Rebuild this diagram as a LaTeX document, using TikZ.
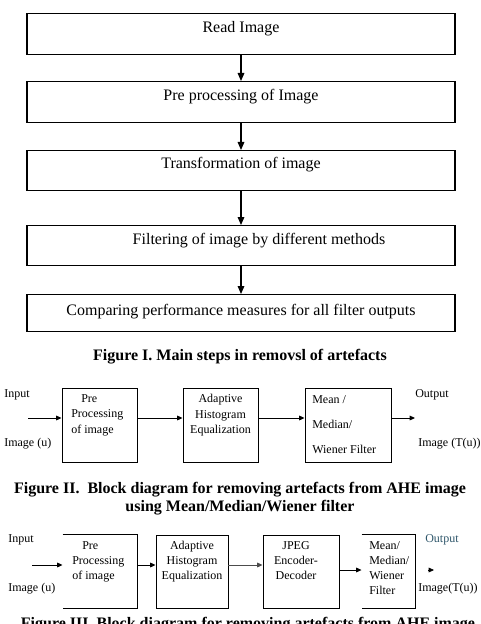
\documentclass[tikz,border=0pt]{standalone}
\usepackage{fontspec}
\setmainfont{Liberation Serif}
\usetikzlibrary{arrows.meta, positioning, calc}
\definecolor{outteal}{RGB}{45,85,105}

\begin{document}
\begin{tikzpicture}[x=0.75pt, y=-0.75pt,
    stepbox/.style={draw, line width=1pt, minimum width=321pt, inner ysep=0pt,
                    anchor=north, font=\fontsize{12}{14}\selectfont},
    blk/.style={draw, line width=0.7pt, inner sep=0pt},
    lbl/.style={inner sep=0pt, anchor=base west, font=\fontsize{9}{11}\selectfont},
    inbox/.style={inner sep=0pt, anchor=north west, align=left,
                  font=\fontsize{9}{11.6}\selectfont},
    capt/.style={inner sep=0pt, anchor=base, align=center,
                font=\fontsize{12}{13.5}\selectfont\bfseries},
    arrI/.style={-{Triangle[length=6pt,width=5pt]}, line width=0.8pt},
    arr/.style={-{Triangle[length=4pt,width=3.5pt]}, line width=0.7pt}]

  \useasboundingbox (0,0) rectangle (480,624);

  % Figure I: main steps
  \node[stepbox, text height=14.25pt, text depth=16.5pt] (read) at (241,13) {Read Image};
  \node[stepbox, text height=14.25pt, text depth=16.5pt] (prep) at (241,81) {Pre processing of Image};
  \node[stepbox, text height=13.5pt, text depth=16.5pt] (trans) at (241,150) {Transformation of image};
  \node[stepbox, text height=14.25pt, text depth=15.75pt] (filt) at (241,225)
       {\hspace*{27pt}Filtering of image by different methods};
  \node[stepbox, text height=15.75pt, text depth=12pt] (comp) at (241,294)
       {Comparing performance measures for all filter outputs};

  \draw[arrI] (read) -- (prep);
  \draw[arrI] (prep) -- (trans);
  \draw[arrI] (trans) -- (filt);
  \draw[arrI] (filt) -- (comp);

  \node[capt] (capI) at (240,360) {Figure I. Main steps in removsl of artefacts};

  % Figure II: AHE + filter
  \node[blk, minimum width=56.25pt, minimum height=55.5pt] (pre2) at (99.5,425) {};
  \node[blk, minimum width=56.25pt, minimum height=55.5pt] (ahe2) at (220.5,425) {};
  \node[blk, minimum width=64.5pt, minimum height=55.5pt] (flt2) at (348,425) {};
  \coordinate (in2) at (28,418);
  \coordinate (out2) at (415,418);

  \draw[arr] (in2) -- (in2 -| pre2.west);
  \draw[arr] (pre2.east |- in2) -- (ahe2.west |- in2);
  \draw[arr] (ahe2.east |- in2) -- (flt2.west |- in2);
  \draw[arr] (flt2.east |- in2) -- (out2);

  \node[inbox] (pre2t) at (71,394) {\hspace*{7.5pt}Pre\\Processing\\of image};
  \node[inbox, anchor=north, align=center] (ahe2t) at (220.5,394) {Adaptive\\Histogram\\Equalization};
  \node[inbox, font=\fontsize{9}{18.75}\selectfont] (flt2t) at (312,395) {Mean /\\Median/\\Wiener Filter};

  \node[lbl] (in2a) at (4,397) {Input};
  \node[lbl] (in2b) at (4,446) {Image (u)};
  \node[lbl] (out2a) at (415,397) {Output};
  \node[lbl] (out2b) at (418,446) {Image (T(u))};

  \node[capt, anchor=north] (capII) at (240,481.5)
       {Figure II.\ \ Block diagram for removing artefacts from AHE image\\using Mean/Median/Wiener filter};

  % Figure III: AHE + JPEG + filter
  \node[blk, draw=none, minimum width=55.5pt, minimum height=54.75pt] (pre3) at (100,571.5) {};
  \node[blk, minimum width=54pt, minimum height=54.75pt] (ahe3) at (192,571.5) {};
  \node[blk, minimum width=57pt, minimum height=54.75pt] (jpg3) at (301,571.5) {};
  \node[blk, draw=none, minimum width=39.75pt, minimum height=54.75pt] (flt3) at (388.5,571.5) {};
  \draw[line width=0.7pt] (pre3.north west) -- (pre3.north east) -- (pre3.south east) -- (pre3.south west);
  \draw[line width=0.7pt] (flt3.north west) -- (flt3.north east) -- (flt3.south east) -- (flt3.south west);
  \coordinate (in3) at (32,565);
  \coordinate (out3s) at (428,570);
  \coordinate (out3) at (434,570);

  \draw[arr] (in3) -- (in3 -| pre3.west);
  \draw[arr] (pre3.east |- in3) -- (ahe3.west |- in3);
  \draw[arr, draw=black!70] (ahe3.east |- in3) -- (jpg3.west |- in3);
  \draw[arr, line width=0.5pt] (jpg3.east |- out3) -- (flt3.west |- out3);
  \draw[arr, line width=0.5pt] (out3s) -- (out3);

  \node[inbox, font=\fontsize{9}{11.25}\selectfont] (pre3t) at (72,541) {\hspace*{7.5pt}Pre\\Processing\\of image};
  \node[inbox, anchor=north, align=center, font=\fontsize{9}{11.25}\selectfont] (ahe3t) at (192,541)
       {Adaptive\\Histogram\\Equalization};
  \node[inbox, anchor=north, align=center, font=\fontsize{9}{11.25}\selectfont] (jpg3t) at (296,541)
       {JPEG\\Encoder-\\Decoder};
  \node[inbox, font=\fontsize{9}{11.25}\selectfont] (flt3t) at (369,541) {Mean/\\Median/\\Wiener\\Filter};

  \node[lbl] (in3a) at (8,542) {Input};
  \node[lbl] (in3b) at (8,591) {Image (u)};
  \node[lbl, text=outteal] (out3a) at (425,542) {Output};
  \node[lbl] (out3b) at (418,591) {Image(T(u))};

  \node[capt] (capIII) at (248,628) {Figure III. Block diagram for removing artefacts from AHE image};
\end{tikzpicture}
\end{document}
